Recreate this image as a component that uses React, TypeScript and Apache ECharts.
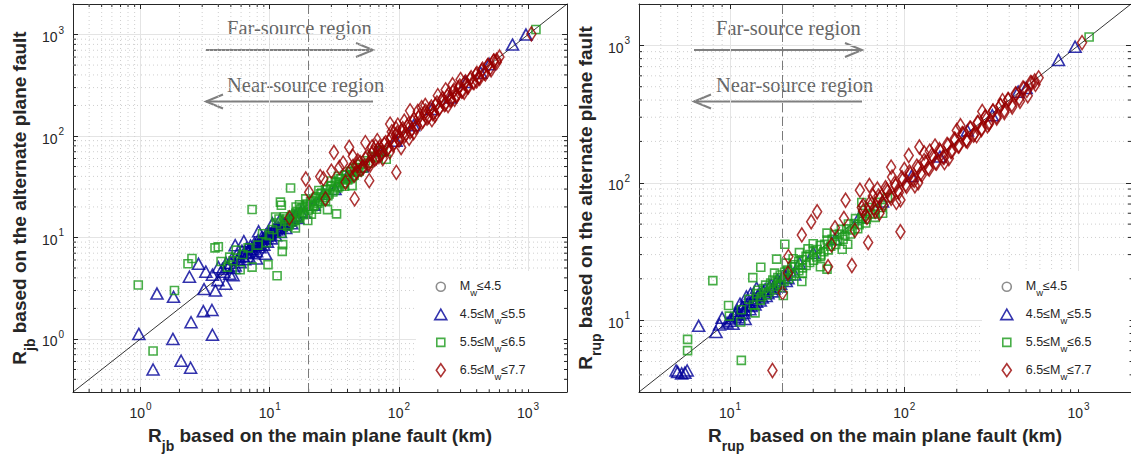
import React, { useEffect, useRef } from 'react';
import * as echarts from 'echarts';

// ---------- tick values ----------
const minorLeft = [0.4, 0.5, 0.6, 0.7, 0.8, 0.9, 2, 3, 4, 5, 6, 7, 8, 9, 20, 30, 40, 50, 60, 70, 80, 90, 200, 300, 400, 500, 600, 700, 800, 900];
const minorRight = [4, 5, 6, 7, 8, 9, 20, 30, 40, 50, 60, 70, 80, 90, 200, 300, 400, 500, 600, 700, 800, 900];
const rangeLeft = [0.3, 2000];
const rangeRight = [3, 2000];
const nearFarSplit = 20;

// ---------- legend ----------
const legendNames = ['Mw≤4.5', '4.5≤Mw≤5.5', '5.5≤Mw≤6.5', '6.5≤Mw≤7.7'];
const legendRich = ['{p|}{t|M}{s|w}{t|≤4.5}', '{p|}{t|4.5≤M}{s|w}{t|≤5.5}', '{p|}{t|5.5≤M}{s|w}{t|≤6.5}', '{p|}{t|6.5≤M}{s|w}{t|≤7.7}'];

// ---------- data: R_jb (left) ----------
const blueJB = [
  [0.97, 1.12], [1.25, 0.5], [2.06, 0.61], [2.44, 0.52], [1.78, 1.0], [2.46, 1.46], [3.6, 1.1], [1.34, 2.8], [1.8, 2.6],
  [2.39, 4.1], [2.81, 5.5], [3.06, 1.88], [3.57, 1.93], [3.2, 4.6], [3.1, 3.1], [3.8, 3.0], [3.97, 3.8], [4.57, 3.5],
  [5.2, 4.25], [5.4, 8.4], [4.0, 5.1], [3.6, 4.3],
  [4.3, 4.9], [4.6, 5.6], [4.9, 4.4], [5.1, 6.2], [5.4, 5.3], [5.6, 6.9], [5.9, 5.7], [6.1, 7.4], [6.4, 6.1], [6.6, 7.8],
  [6.9, 6.5], [7.1, 8.3], [7.3, 7.0], [7.6, 8.8], [7.9, 7.3], [8.1, 9.4], [8.4, 8.0], [8.7, 10.1], [9.0, 8.5], [9.3, 10.6],
  [9.6, 9.1], [9.9, 11.2], [10.3, 9.8], [10.7, 11.9], [11.1, 10.5], [11.6, 12.6], [12.1, 11.3], [12.7, 13.4], [13.3, 12.4],
  [14.0, 14.6], [14.8, 13.8], [15.6, 16.2], [16.5, 15.6], [17.4, 18.0], [18.5, 17.6], [7.9, 6.2], [9.3, 6.9], [6.3, 9.2],
  [8.2, 11.5], [10.5, 13.8], [12.0, 15.0],
  [4.4, 4.6], [4.7, 5.1], [5.0, 5.6], [5.3, 5.0], [5.6, 6.0], [5.8, 6.4], [6.2, 6.6], [6.5, 7.1], [6.8, 7.2], [7.0, 7.6],
  [7.4, 7.7], [7.7, 8.3], [8.0, 8.5], [8.3, 8.9], [8.6, 9.2], [8.9, 9.6], [9.2, 9.9], [9.5, 10.3], [9.8, 10.5], [10.1, 10.9],
  [10.5, 11.3], [10.9, 11.6], [11.3, 12.0], [11.8, 12.3], [12.3, 12.9], [12.9, 13.6], [13.6, 14.1], [14.3, 15.0], [15.0, 15.6], [16.0, 16.6],
  [22, 21], [26, 27], [32, 30], [40, 41], [52, 50], [70, 72], [95, 90], [130, 128], [180, 185], [250, 240], [330, 340],
  [430, 420], [500, 510], [757, 796], [962, 1000],
];
const greenJB = [
  [0.96, 3.4], [1.25, 0.76], [1.83, 3.0], [2.33, 5.5], [2.5, 6.2], [3.77, 7.9], [4.0, 8.1], [4.2, 5.8], [4.9, 6.4],
  [4.7, 5.1], [5.9, 4.8], [5.5, 7.5], [7.3, 5.1], [7.3, 18.9], [9.7, 5.4], [11.4, 4.2], [12.5, 7.3], [12.6, 8.5],
  [8.1, 8.4], [9.9, 10.4], [12.1, 22.3], [12.3, 20.8], [11.1, 15.9], [15.8, 12.4], [14.5, 30.7], [19.7, 14.7], [28, 18.8],
  [32.9, 17.1], [43.4, 32.4], [79.7, 59], [1150, 1120],
  [10.5, 12.0], [11.3, 13.9], [11.8, 15.2], [13.0, 16.0], [8.8, 10.9], [9.4, 8.9], [12.4, 11.0], [6.2, 6.8], [6.8, 7.9], [5.2, 5.9],
  [13.2, 14.5], [13.8, 12.9], [14.5, 16.0], [15.1, 14.2], [15.9, 17.3], [16.6, 15.5], [17.3, 19.1], [18.1, 16.8],
  [18.9, 20.5], [19.8, 18.4], [20.7, 22.6], [21.6, 20.1], [22.6, 24.5], [23.6, 21.8], [24.7, 26.9], [25.8, 23.6],
  [27.0, 29.5], [28.2, 25.8], [29.5, 32.0], [30.8, 28.1], [32.2, 34.9], [33.6, 30.8], [35.1, 37.9], [36.7, 33.6],
  [38.4, 41.2], [40.1, 36.8], [41.9, 44.6], [43.8, 40.2], [45.8, 48.3], [47.9, 44.1], [50.1, 52.3], [52.4, 48.3],
  [55, 57], [58, 54], [62, 63], [66, 61], [70, 72], [75, 70], [24, 29], [30, 36], [17, 21], [21, 17], [27, 23],
  [13.5, 15.2], [14.2, 13.4], [14.9, 16.6], [15.6, 14.7], [16.3, 18.0], [17.0, 16.1], [17.8, 19.6], [18.6, 17.5],
  [19.4, 21.3], [20.3, 19.1], [21.2, 23.2], [22.1, 20.8], [23.1, 25.2], [24.2, 22.6], [25.3, 27.4], [26.4, 24.6],
  [27.6, 29.8], [28.8, 26.8], [30.1, 32.4], [31.5, 29.2], [32.9, 35.2], [34.4, 31.8], [36, 38], [37.6, 34.6],
  [39.3, 41.5], [41, 37.7], [43, 45], [45, 41], [47, 49], [49, 45], [19, 24], [23, 19], [16, 20], [34, 40], [38, 32],
];
const redJB = [
  [14.2, 15.6], [19, 37.7], [20.2, 27.9], [24.6, 39.8], [27, 24], [45.4, 24], [31.4, 68.9], [34.6, 49], [41.2, 77.4],
  [38.6, 35], [58.9, 36.3], [95.5, 43.8], [55, 86], [85.5, 131], [104, 77], [122, 177], [1060, 1014],
  [37, 54], [44, 63], [48, 57], [30, 45], [26, 38], [60, 52], [66, 79], [70, 63],
  [42, 46], [45, 41], [48, 52], [51, 47], [55, 60], [58, 53], [62, 67], [65, 59], [69, 74], [73, 66], [77, 83], [81, 74],
  [86, 93], [90, 82], [95, 102], [100, 91], [105, 113], [110, 100], [116, 124], [122, 110], [128, 137], [135, 122],
  [142, 151], [149, 135], [157, 166], [165, 150], [174, 183], [183, 166], [193, 202], [203, 184], [214, 223], [225, 204],
  [237, 246], [249, 226], [262, 271], [276, 250], [290, 298], [305, 277], [321, 330], [338, 307], [356, 362], [375, 340],
  [395, 400], [415, 378], [437, 440], [460, 420], [485, 490], [510, 470], [540, 545], [570, 560], [600, 600],
  [88, 110], [110, 140], [150, 190], [200, 250], [260, 320], [75, 60], [120, 95], [180, 145], [240, 200], [320, 270],
  [68, 90], [98, 128], [140, 175], [300, 360],
  [44, 50], [47, 44], [50, 55], [53, 49], [57, 63], [60, 56], [63, 70], [67, 61], [71, 78], [74, 69], [79, 86], [83, 77],
  [87, 97], [92, 86], [97, 107], [102, 95], [107, 118], [113, 104], [119, 131], [125, 115], [131, 145], [138, 127],
  [145, 160], [153, 140], [161, 176], [169, 155], [178, 193], [187, 171], [197, 212], [207, 189], [218, 234], [229, 208],
  [241, 257], [254, 229], [267, 283], [281, 252], [296, 311], [311, 278], [327, 342], [344, 306], [362, 376], [381, 337],
  [401, 414], [422, 371], [444, 455], [467, 409], [491, 500], [517, 450], [544, 550], [572, 532],
  [85, 70], [130, 108], [190, 160], [270, 230], [400, 350], [160, 200], [230, 285], [95, 118], [62, 78],
];

// ---------- data: R_rup (right) ----------
const blueRUP = [
  [4.9, 4.3], [5.27, 4.1], [5.67, 4.3], [5.5, 4.15], [5.0, 4.2], [6.6, 9.1], [8.3, 8.2], [9.0, 10.4], [8.7, 9.3],
  [9.6, 9.6], [10.1, 10.3], [10.4, 9.4], [10.8, 11.2], [11.2, 10.5], [11.6, 12.1], [12.0, 11.3], [12.4, 14.9], [12.5, 12.9],
  [13.0, 12.0], [13.4, 14.0], [13.9, 13.0], [14.4, 15.1], [14.9, 13.9], [15.5, 16.3], [16.1, 15.0], [16.8, 17.6],
  [17.5, 16.2], [18.3, 19.0], [19.1, 17.6], [20.0, 20.7], [21.0, 19.3], [22, 23], [23.5, 21.5], [25, 26], [11.4, 13.2],
  [13.1, 15.6], [14.2, 17.2], [12.2, 10.2],
  [10.0, 9.9], [10.6, 10.8], [11.0, 11.7], [11.4, 11.0], [11.8, 12.6], [12.2, 11.8], [12.7, 13.5], [13.2, 12.7],
  [13.7, 14.5], [14.2, 13.6], [14.7, 15.6], [15.3, 14.6], [15.9, 16.8], [16.5, 15.7], [17.2, 18.1], [17.9, 17.0],
  [18.7, 19.6], [19.5, 18.4], [20.5, 21.4], [21.5, 20.2],
  [30, 31], [40, 39], [55, 56], [75, 73], [110, 112], [160, 155], [230, 240], [320, 310], [450, 460], [500, 490],
  [767, 783], [955, 978],
];
const greenRUP = [
  [5.7, 7.25], [5.7, 6.0], [7.96, 19.4], [9.8, 12.8], [9.9, 10.7], [11.5, 9.7], [11.6, 5.1], [11.6, 11.9], [13.9, 11.3],
  [13.5, 20.4], [15.0, 24.3], [18.5, 27.8], [19.2, 18.1], [20.2, 15.1], [20.6, 35.7], [25.8, 19.1], [33, 24.5], [36, 23.5],
  [44, 32.8], [47.3, 35.7], [57, 71.8], [75, 60], [1150, 1150],
  [14.2, 15.6], [14.9, 14.0], [15.6, 17.0], [16.3, 15.3], [17.1, 18.6], [17.9, 16.7], [18.8, 20.4], [19.7, 18.3],
  [20.6, 22.3], [21.6, 20.0], [22.6, 24.4], [23.7, 21.9], [24.8, 26.7], [26.0, 24.0], [27.3, 29.2], [28.6, 26.3],
  [30.0, 32.0], [31.4, 28.8], [32.9, 35.0], [34.5, 31.5], [36.1, 38.3], [37.8, 34.5], [39.6, 41.9], [41.5, 37.8],
  [43.5, 45.8], [45.6, 41.4], [47.8, 50.1], [50.1, 45.3], [52.5, 54.8], [55.0, 49.6], [57.6, 60.0], [60.4, 54.3],
  [63, 66], [66, 59], [70, 72], [74, 66], [80, 78], [23, 28], [28, 33], [18, 22], [26, 22], [33, 29], [12.8, 14.2], [13.6, 12.9],
  [14.5, 16.5], [15.2, 14.8], [16.0, 18.0], [16.8, 16.1], [17.6, 19.6], [18.5, 17.6], [19.4, 21.3], [20.4, 19.2],
  [21.4, 23.2], [22.5, 21.0], [23.6, 25.3], [24.8, 22.9], [26, 27.5], [27.3, 25], [28.7, 30], [30.1, 27.3],
  [31.6, 32.7], [33.2, 29.8], [34.9, 35.6], [36.6, 32.5], [38.5, 38.8], [40.4, 35.5], [42.4, 42.3], [44.5, 38.8],
  [46.7, 46.2], [49, 42.4], [51.5, 50.4], [54, 46.3], [57, 55], [60, 51], [64, 60], [68, 56], [21, 26], [25, 31], [30, 36], [36, 43],
];
const redRUP = [
  [17.5, 4.3], [20, 15.8], [21.5, 22], [21.6, 29], [25.8, 41.7], [29.2, 52], [31.6, 61.5], [36.5, 24.5], [38.2, 35.3],
  [50, 25], [46, 74.6], [55.6, 88.3], [62, 36.7], [63, 95.5], [84, 130], [95, 44], [106, 158], [122, 182], [1047, 1047],
  [40, 47], [45, 55], [52, 45], [58, 68], [66, 80], [72, 60], [78, 92],
  [58, 62], [61, 56], [65, 70], [68, 62], [72, 77], [76, 69], [80, 86], [84, 77], [89, 95], [93, 85], [98, 105], [103, 94],
  [108, 116], [114, 104], [120, 128], [126, 114], [132, 140], [139, 126], [146, 154], [153, 139], [161, 170], [169, 153],
  [178, 187], [187, 169], [196, 205], [206, 186], [217, 226], [228, 205], [240, 249], [252, 227], [265, 274], [278, 250],
  [292, 302], [307, 276], [323, 333], [339, 304], [357, 366], [375, 336], [394, 404], [414, 370], [435, 444], [457, 410],
  [480, 490], [505, 470], [530, 535], [560, 550], [590, 580], [100, 125], [140, 170], [200, 240], [280, 330], [120, 100],
  [170, 140], [230, 200], [366, 396], [90, 72],
  [57, 66], [60, 58], [64, 73], [67, 65], [71, 80], [75, 72], [79, 89], [83, 80], [88, 99], [92, 88], [97, 109], [102, 97],
  [107, 120], [112, 106], [118, 132], [124, 117], [130, 145], [137, 128], [144, 159], [151, 140], [159, 174], [167, 154],
  [176, 190], [185, 169], [194, 208], [204, 185], [215, 228], [226, 203], [238, 250], [250, 222], [263, 274], [277, 244],
  [291, 301], [306, 268], [322, 331], [339, 295], [356, 364], [375, 324], [395, 400], [416, 356], [438, 440], [461, 392],
  [486, 484], [511, 430], [538, 532], [566, 520],
  [70, 90], [95, 75], [130, 165], [180, 150], [260, 220], [85, 110], [115, 95], [210, 260], [300, 260], [150, 185],
];

const SANS = '"Liberation Sans", Arial, Helvetica, sans-serif';
const SERIF = '"Liberation Serif", "Times New Roman", serif';
const INK = '#262626';
const C_GRAY = '#707070';
const C_BLUE = '#000099';
const C_GREEN = '#1a9a1a';
const C_RED = '#990000';
const GRID_MAJOR = '#e4e4e4';
const GRID_MINOR = '#cfcfcf';

const hollow = (c: string) => ({ color: 'rgba(0,0,0,0)', borderColor: c, borderWidth: 1.6 });

function App() {
  const ref = useRef<HTMLDivElement>(null);
  useEffect(() => {
    if (!ref.current) return;
    const chart = echarts.init(ref.current, undefined, { renderer: 'svg' });

    const tickLabel = (show: boolean) => ({
      show,
      showMinLabel: false,
      showMaxLabel: false,
      margin: 9,
      formatter: (v: number) => `{b|10}{s|${Math.round(Math.log10(v))}}`,
      rich: {
        b: { fontSize: 14, fontFamily: SANS, color: INK, verticalAlign: 'top', padding: [5, 0, 0, 0] },
        s: { fontSize: 10, fontFamily: SANS, color: INK, verticalAlign: 'top', padding: [0, 0, 0, 1] },
      },
    });
    const nameRich = {
      r: { fontSize: 19, fontWeight: 'bold', fontFamily: SANS, color: INK, verticalAlign: 'top' },
      u: { fontSize: 14, fontWeight: 'bold', fontFamily: SANS, color: INK, verticalAlign: 'top', padding: [13, 0, 0, 0] },
    };
    const mkAxis = (grid: number, range: number[], pos: string, main: boolean, name?: string, isY?: boolean) => ({
      gridIndex: grid,
      type: 'log',
      logBase: 10,
      min: range[0],
      max: range[1],
      position: pos,
      axisLine: { show: true, onZero: false, lineStyle: { color: INK, width: 1 } },
      axisTick: { show: true, inside: true, length: 5, lineStyle: { color: INK, width: 1 } },
      axisLabel: tickLabel(main),
      splitLine: { show: main, lineStyle: { color: GRID_MAJOR, width: 1 } },
      minorTick: { show: false },
      name: name || '',
      nameLocation: 'middle',
      nameGap: isY ? 36 : 34,
      nameRotate: isY ? 90 : 0,
      nameTextStyle: { rich: nameRich },
    });

    const minorX = (vals: number[], yRef: number, xi: number) => ({
      type: 'custom',
      xAxisIndex: xi,
      yAxisIndex: xi,
      z: 1,
      silent: true,
      data: vals.map((v) => [v, yRef]),
      renderItem: (params: any, api: any) => {
        const cs = params.coordSys;
        const px = api.coord([api.value(0), api.value(1)])[0];
        return {
          type: 'group',
          children: [
            { type: 'line', shape: { x1: px, y1: cs.y, x2: px, y2: cs.y + cs.height }, style: { stroke: GRID_MINOR, lineWidth: 1, lineDash: [1, 3] } },
            { type: 'line', shape: { x1: px, y1: cs.y + cs.height, x2: px, y2: cs.y + cs.height - 3 }, style: { stroke: INK, lineWidth: 1 } },
            { type: 'line', shape: { x1: px, y1: cs.y, x2: px, y2: cs.y + 3 }, style: { stroke: INK, lineWidth: 1 } },
          ],
        };
      },
    });
    const minorY = (vals: number[], xRef: number, yi: number) => ({
      type: 'custom',
      xAxisIndex: yi,
      yAxisIndex: yi,
      z: 1,
      silent: true,
      data: vals.map((v) => [xRef, v]),
      renderItem: (params: any, api: any) => {
        const cs = params.coordSys;
        const py = api.coord([api.value(0), api.value(1)])[1];
        return {
          type: 'group',
          children: [
            { type: 'line', shape: { x1: cs.x, y1: py, x2: cs.x + cs.width, y2: py }, style: { stroke: GRID_MINOR, lineWidth: 1, lineDash: [1, 3] } },
            { type: 'line', shape: { x1: cs.x, y1: py, x2: cs.x + 3, y2: py }, style: { stroke: INK, lineWidth: 1 } },
            { type: 'line', shape: { x1: cs.x + cs.width, y1: py, x2: cs.x + cs.width - 3, y2: py }, style: { stroke: INK, lineWidth: 1 } },
          ],
        };
      },
    });

    const diag = (range: number[], ai: number) => ({
      type: 'line',
      xAxisIndex: ai,
      yAxisIndex: ai,
      z: 2,
      silent: true,
      symbol: 'none',
      data: [[range[0], range[0]], [range[1], range[1]]],
      lineStyle: { color: '#000', width: 0.8 },
      markLine: {
        silent: true,
        symbol: 'none',
        label: { show: false },
        lineStyle: { color: '#7a7a7a', width: 1, type: [9, 5] },
        data: [{ xAxis: nearFarSplit }],
      },
    });

    const scat = (name: string, data: number[][], ai: number, symbol: string, size: any, color: string) => ({
      type: 'scatter',
      name,
      xAxisIndex: ai,
      yAxisIndex: ai,
      z: 3,
      data,
      symbol,
      symbolSize: size,
      itemStyle: hollow(color),
    });

    const legendData = [
      { name: legendNames[0], icon: 'path://M0,0M14,14M11.5,7A4.5,4.5,0,1,1,2.5,7A4.5,4.5,0,1,1,11.5,7Z', itemStyle: hollow(C_GRAY) },
      { name: legendNames[1], icon: 'path://M0,0M14,14M7,1.5L13,12L1,12Z', itemStyle: hollow(C_BLUE) },
      { name: legendNames[2], icon: 'path://M0,0M14,14M3,3L11,3L11,11L3,11Z', itemStyle: hollow(C_GREEN) },
      { name: legendNames[3], icon: 'path://M0,0M14,14M7,0.5L11.5,7L7,13.5L2.5,7Z', itemStyle: hollow(C_RED) },
    ];
    const mkLegend = (left: number) => ({
      left,
      top: 271,
      orient: 'vertical',
      backgroundColor: '#ffffff',
      padding: [8, 38, 8, 17],
      itemWidth: 14,
      itemHeight: 14,
      itemGap: 9,
      selectedMode: false,
      data: legendData,
      formatter: (n: string) => legendRich[legendNames.indexOf(n)],
      textStyle: {
        rich: {
          p: { width: 7 },
          t: { fontSize: 12.5, fontFamily: SANS, color: INK, verticalAlign: 'top', lineHeight: 14 },
          s: { fontSize: 9.5, fontFamily: SANS, color: INK, verticalAlign: 'top', lineHeight: 10, padding: [8, 0, 0, 0] },
        },
      },
    });

    const arrow = (x1: number, x2: number, y: number) => {
      const dir = x2 > x1 ? 1 : -1;
      return [
        { type: 'line', shape: { x1, y1: y, x2, y2: y }, style: { stroke: '#7f7f7f', lineWidth: 2 } },
        {
          type: 'polyline',
          shape: { points: [[x2 - dir * 17, y - 7], [x2, y], [x2 - dir * 17, y + 7]] },
          style: { stroke: '#7f7f7f', lineWidth: 2, fill: 'none' },
        },
      ];
    };
    const region = (xText: number, xa: number, xb: number) => [
      { type: 'text', x: xText, y: 28, style: { text: 'Far-source region', font: `20.5px ${SERIF}`, fill: '#666666', verticalAlign: 'middle' } },
      { type: 'text', x: xText, y: 85, style: { text: 'Near-source region', font: `20.5px ${SERIF}`, fill: '#666666', verticalAlign: 'middle' } },
      ...arrow(xa, xb, 50),
      ...arrow(xb, xa, 101.5),
    ];

    const option: any = {
      animation: false,
      backgroundColor: '#ffffff',
      grid: [
        { left: 73, top: 4, width: 494, height: 388 },
        { left: 639, top: 4, width: 494, height: 388 },
      ],
      xAxis: [
        mkAxis(0, rangeLeft, 'bottom', true, '{r|R}{u|jb}{r| based on the main plane fault (km)}'),
        mkAxis(0, rangeLeft, 'top', false),
        mkAxis(1, rangeRight, 'bottom', true, '{r|R}{u|rup}{r| based on the main plane fault (km)}'),
        mkAxis(1, rangeRight, 'top', false),
      ],
      yAxis: [
        mkAxis(0, rangeLeft, 'left', true, '{r|R}{u|jb}{r| based on the alternate plane fault}', true),
        mkAxis(0, rangeLeft, 'right', false, '', true),
        mkAxis(1, rangeRight, 'left', true, '{r|R}{u|rup}{r| based on the alternate plane fault}', true),
        mkAxis(1, rangeRight, 'right', false, '', true),
      ],
      legend: [mkLegend(416), mkLegend(982)],
      graphic: [...region(227, 206, 373), ...region(716, 694, 862)],
      series: [
        minorX(minorLeft, 1, 0),
        minorY(minorLeft, 1, 0),
        minorX(minorRight, 10, 2),
        minorY(minorRight, 10, 2),
        diag(rangeLeft, 0),
        diag(rangeRight, 2),
        scat(legendNames[0], [], 0, 'circle', 9, C_GRAY),
        scat(legendNames[1], blueJB, 0, 'triangle', [12, 11], C_BLUE),
        scat(legendNames[2], greenJB, 0, 'rect', [8, 8], C_GREEN),
        scat(legendNames[3], redJB, 0, 'diamond', [9, 14], C_RED),
        scat(legendNames[1], blueRUP, 2, 'triangle', [12, 11], C_BLUE),
        scat(legendNames[2], greenRUP, 2, 'rect', [8, 8], C_GREEN),
        scat(legendNames[3], redRUP, 2, 'diamond', [9, 14], C_RED),
      ],
    };
    chart.setOption(option);
    return () => chart.dispose();
  }, []);
  return <div ref={ref} style={{ position: 'absolute', left: 0, top: 0, width: 1131, height: 461 }} />;
}

export default App;
